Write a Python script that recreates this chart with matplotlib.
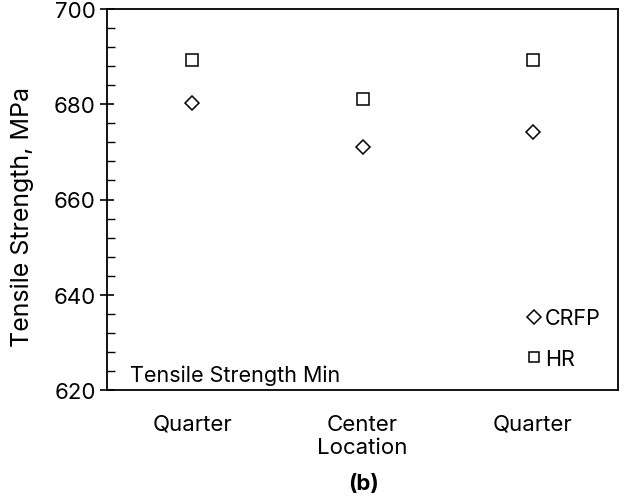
import numpy as np
import matplotlib
matplotlib.use("Agg")
import matplotlib.pyplot as plt
from matplotlib.ticker import MultipleLocator

plt.rcParams['font.family'] = ['Inter', 'DejaVu Sans']

# data
locations = ["Quarter", "Center", "Quarter"]
crfp = [680.3, 671.1, 674.1]
hr = [689.3, 681.0, 689.3]

fig = plt.figure(figsize=(6.27, 5.02), dpi=100)
ax = fig.add_axes([107 / 627, 1 - 391 / 502, 511 / 627, 381 / 502])

x = np.arange(1, len(locations) + 1)
ax.plot(x, crfp, linestyle="none", marker="D", markersize=7.5,
        markerfacecolor="white", markeredgecolor="black", markeredgewidth=1.1,
        label="CRFP")
ax.plot(x, hr, linestyle="none", marker="s", markersize=8,
        markerfacecolor="white", markeredgecolor="black", markeredgewidth=1.1,
        label="HR")

ax.set_xlim(0.5, 3.5)
ax.set_ylim(620, 700)
ax.yaxis.set_major_locator(MultipleLocator(20))
ax.yaxis.set_minor_locator(MultipleLocator(4))
ax.tick_params(axis="y", which="major", length=10, width=1.2, labelsize=16,
               direction="inout", pad=3)
ax.tick_params(axis="y", which="minor", length=5.5, width=1.0, direction="in")
ax.set_xticks(x)
ax.set_xticklabels(locations, fontsize=16)
ax.tick_params(axis="x", length=0, pad=17)
for s in ax.spines.values():
    s.set_linewidth(1.3)

ax.set_ylabel("Tensile Strength, MPa", fontsize=18)
ax.yaxis.set_label_coords(-0.142, 0.457)
ax.text(2, -0.123, "Location", transform=ax.get_xaxis_transform(),
        ha="center", va="top", fontsize=16)
ax.text(0.045, 0.012, "Tensile Strength Min", transform=ax.transAxes,
        ha="left", va="bottom", fontsize=15.5)
fig.text(364 / 627, 1 - 484 / 502, "(b)", ha="center", va="center",
         fontsize=16, fontweight="bold")

leg = ax.legend(loc="lower left", bbox_to_anchor=(0.80, 0.028), frameon=False,
                fontsize=15.5, handlelength=0.7, handletextpad=0.15,
                labelspacing=0.95, markerscale=0.9, borderpad=0)

fig.savefig("out.png", dpi=100)
